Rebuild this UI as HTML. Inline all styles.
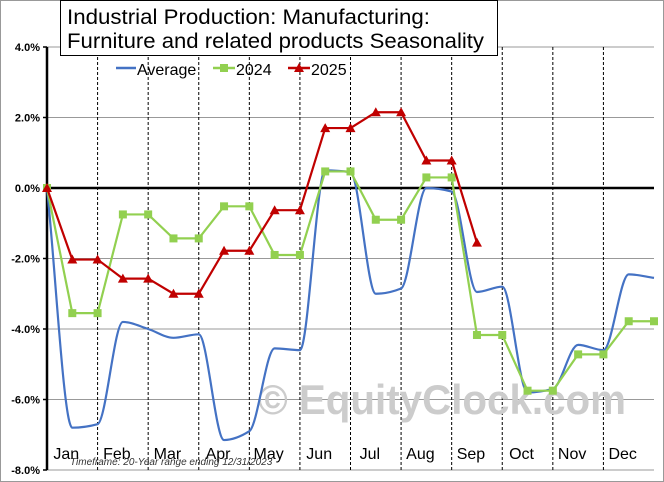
<!DOCTYPE html>
<html><head><meta charset="utf-8"><style>
body{margin:0;background:#fff}
svg{display:block;font-family:"Liberation Sans",sans-serif}
</style></head><body>
<svg id="c" width="664" height="482">
<rect x="0.5" y="0.5" width="663" height="481" fill="#fff" stroke="#999"/>
<g id="grid"></g>
<text x="258" y="414" font-size="42" font-weight="bold" fill="#ccc" textLength="368" lengthAdjust="spacingAndGlyphs">© EquityClock.com</text>
<g id="series"></g>
<rect x="60.5" y="0.5" width="437" height="55" fill="#fff" stroke="#000"/>
<text x="67" y="24" font-size="21" textLength="363" lengthAdjust="spacingAndGlyphs">Industrial Production: Manufacturing:</text>
<text x="67" y="48" font-size="21" textLength="417" lengthAdjust="spacingAndGlyphs">Furniture and related products Seasonality</text>
<g>
<line x1="116" y1="68" x2="136" y2="68" stroke="#4472c4" stroke-width="2.5"/>
<text x="137" y="75" font-size="16">Average</text>
<line x1="213" y1="68" x2="235" y2="68" stroke="#92d050" stroke-width="2.5"/><rect x="220" y="64" width="8" height="8" fill="#92d050"/>
<text x="236" y="75" font-size="16">2024</text>
<line x1="288" y1="68" x2="310" y2="68" stroke="#c00000" stroke-width="2.5"/><path d="M299 63 L304 72 L294 72Z" fill="#c00000"/>
<text x="311" y="75" font-size="16">2025</text>
</g>
<text x="70" y="465" font-size="10" font-style="italic" fill="#333">Timeframe: 20-Year range ending 12/31/2023</text>
</svg>
<script>
const months=["Jan","Feb","Mar","Apr","May","Jun","Jul","Aug","Sep","Oct","Nov","Dec"];
const yTicks=[4,2,0,-2,-4,-6,-8];
const avgVals=[0,-6.8,-6.7,-3.8,-4.0,-4.25,-4.15,-7.15,-6.9,-4.55,-4.6,0.5,0.45,-3.0,-2.85,0.0,-0.1,-2.95,-2.8,-5.8,-5.7,-4.45,-4.6,-2.45,-2.55];
const vals2024=[0,-3.55,-3.55,-0.75,-0.75,-1.43,-1.43,-0.52,-0.52,-1.9,-1.9,0.47,0.47,-0.9,-0.9,0.3,0.3,-4.17,-4.17,-5.75,-5.75,-4.72,-4.72,-3.78,-3.78];
const vals2025=[0,-2.03,-2.03,-2.57,-2.57,-3.0,-3.0,-1.78,-1.78,-0.63,-0.63,1.7,1.7,2.15,2.15,0.78,0.78,-1.55];
const NS="http://www.w3.org/2000/svg";
const X0=47,X1=654,Y4=47,Y8=470;
const xs=i=>X0+i*(X1-X0)/24;
const ys=v=>Y4+(4-v)*(Y8-Y4)/12;
function mk(t,a,p){const e=document.createElementNS(NS,t);for(const k in a)e.setAttribute(k,a[k]);p.appendChild(e);return e;}
const g=document.getElementById('grid'),s=document.getElementById('series');
yTicks.forEach(v=>{
  const l=mk('line',{x1:X0,x2:X1,y1:ys(v),y2:ys(v),stroke:v===0?'#000':'#999','stroke-width':v===0?2.5:1},g);
  
  
  const t=mk('text',{x:X0-7,y:ys(v)+4,'font-size':11,'font-weight':'bold','text-anchor':'end'},g);
  t.textContent=v.toFixed(1)+'%';
  
  
  mk('line',{x1:X0-4,x2:X0,y1:ys(v),y2:ys(v),stroke:'#000','stroke-width':1.5},g);
});
months.forEach((m,i)=>{
  const xb=xs(2*i+2);
  if(i<11){const d=mk('line',{x1:xb,x2:xb,y1:Y4,y2:Y8,stroke:'#000','stroke-dasharray':'3,2','stroke-width':1},g);
  
  }
  const t=mk('text',{x:xs(2*i+1)-6,y:459,'font-size':16,'text-anchor':'middle'},g);
  t.textContent=m;
  
  
});
mk('line',{x1:X0,x2:X0,y1:Y4,y2:Y8,stroke:'#000','stroke-width':2.5},g);
// monotone cubic average curve
const P=avgVals.map((v,i)=>[xs(i),ys(v)]);
const n=P.length,h=P[1][0]-P[0][0];
const dl=[];for(let i=0;i<n-1;i++)dl.push((P[i+1][1]-P[i][1])/h);
const m=[];for(let i=0;i<n;i++){
  if(i===0)m.push(dl[0]);else if(i===n-1)m.push(dl[n-2]);
  else if(dl[i-1]*dl[i]<=0)m.push(0);else m.push(2/(1/dl[i-1]+1/dl[i]));}
let d='M'+P[0][0]+' '+P[0][1];
for(let i=0;i<n-1;i++){
  d+=` C${P[i][0]+h/3} ${P[i][1]+m[i]*h/3} ${P[i+1][0]-h/3} ${P[i+1][1]-m[i+1]*h/3} ${P[i+1][0]} ${P[i+1][1]}`;}
const avg=mk('path',{d:d,fill:'none',stroke:'#4472c4','stroke-width':2.2},s);


function line(vals,col,name,marker){
  const pl=mk('polyline',{points:vals.map((v,i)=>xs(i)+','+ys(v)).join(' '),fill:'none',stroke:col,'stroke-width':2.2},s);
  
  
  vals.forEach((v,i)=>{const x=xs(i),y=ys(v);let mm;
    if(marker==='sq')mm=mk('rect',{x:x-4,y:y-4,width:8,height:8,fill:col},s);
    else mm=mk('path',{d:`M${x} ${y-5} L${x+5} ${y+4} L${x-5} ${y+4}Z`,fill:col},s);
    
    });
}
line(vals2024,'#92d050','series-2024','sq');
line(vals2025,'#c00000','series-2025','tri');
</script>
</body></html>
